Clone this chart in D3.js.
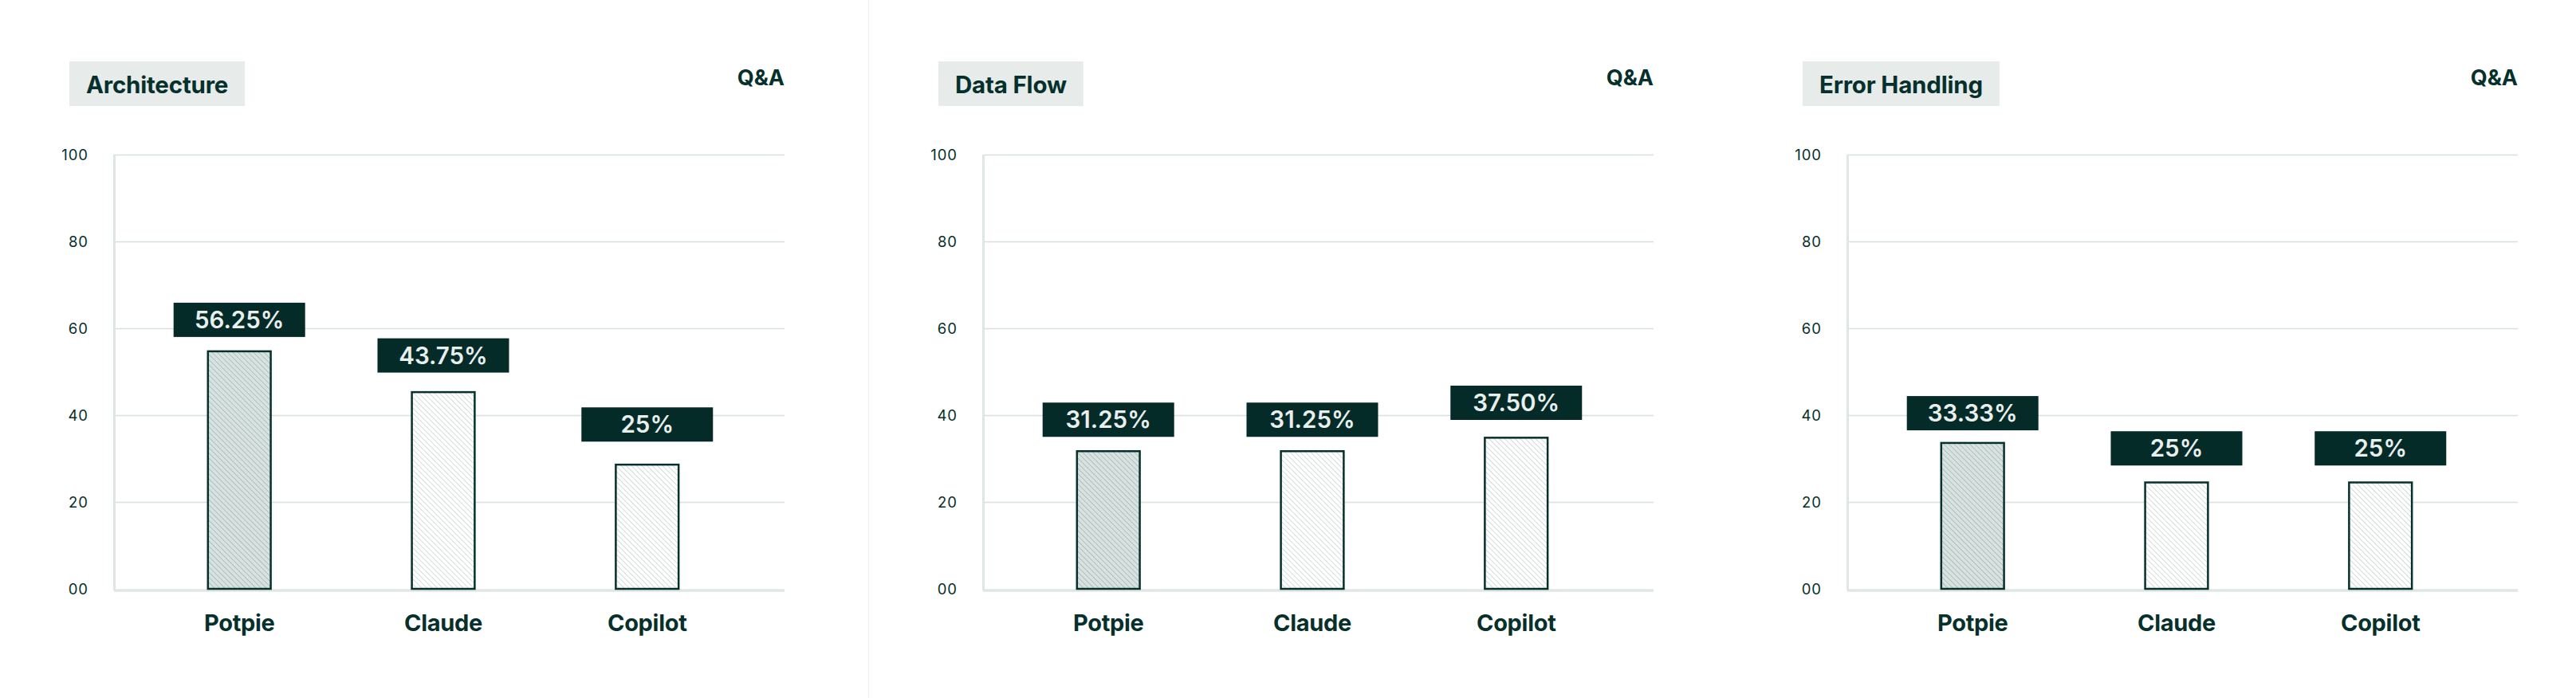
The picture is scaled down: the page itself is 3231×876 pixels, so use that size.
<!DOCTYPE html>
<html>
<head>
<meta charset="utf-8">
<script src="https://cdn.jsdelivr.net/npm/d3@7"></script>
<style>
  html, body { margin: 0; padding: 0; background: #ffffff; }
  svg { display: block; }
</style>
</head>
<body>
<svg id="chart" width="3231" height="876"></svg>
<script>
// ---------- data ----------
const panelTitles = ["Architecture", "Data Flow", "Error Handling"];
const cornerLabel = "Q&A";
const tools = ["Potpie", "Claude", "Copilot"];
const barValuesArchitecture = [54.7, 45.3, 28.6];
const barValuesDataFlow = [31.7, 31.7, 34.8];
const barValuesErrorHandling = [33.6, 24.5, 24.5];
const tagTextArchitecture = ["56.25%", "43.75%", "25%"];
const tagTextDataFlow = ["31.25%", "31.25%", "37.50%"];
const tagTextErrorHandling = ["33.33%", "25%", "25%"];
// level (in axis units) at which the bottom of each dark tag sits
const tagLevelArchitecture = [58.0, 49.8, 33.9];
const tagLevelDataFlow = [35.0, 35.0, 38.9];
const tagLevelErrorHandling = [36.5, 28.4, 28.4];
const yTickValues = [0, 20, 40, 60, 80, 100];
const yTickLabels = ["00", "20", "40", "60", "80", "100"];

const barValues = [barValuesArchitecture, barValuesDataFlow, barValuesErrorHandling];
const tagTexts = [tagTextArchitecture, tagTextDataFlow, tagTextErrorHandling];
const tagLevels = [tagLevelArchitecture, tagLevelDataFlow, tagLevelErrorHandling];

// ---------- style / layout ----------
const DARK = "#06302c";
const TAG = "#052b29";
const GRID = "#d6e0de";
const AXIS = "#dfe7e5";
const panelOrigins = [0, 1090, 2174];
const plot = { left: 143, right: 984, top: 194, bottom: 739 };

const svg = d3.select("#chart");
const defs = svg.append("defs");

function hatch(id, bg, line) {
  const p = defs.append("pattern")
    .attr("id", id).attr("patternUnits", "userSpaceOnUse")
    .attr("width", 4.6).attr("height", 4.6)
    .attr("patternTransform", "rotate(45)");
  p.append("rect").attr("width", 4.6).attr("height", 4.6).attr("fill", bg);
  p.append("line").attr("x1", 0).attr("y1", 0).attr("x2", 4.6).attr("y2", 0)
    .attr("stroke", line).attr("stroke-width", 1.4);
}
hatch("hatchDark", "#d8e3e1", "#9fb2af");
hatch("hatchLight", "#ffffff", "#c3cfcd");

// separator
svg.append("line").attr("x1", 1089.5).attr("x2", 1089.5).attr("y1", 0).attr("y2", 876)
  .attr("stroke", "#f0f1f1").attr("stroke-width", 1.5);

const y = d3.scaleLinear().domain([0, 100]).range([plot.bottom, plot.top]);
const x = d3.scaleBand().domain(tools).range([plot.left, plot.right])
  .paddingInner(0.692).paddingOuter(0.49).align(0.47);

panelTitles.forEach((title, pi) => {
  const g = svg.append("g").attr("transform", `translate(${panelOrigins[pi]},0)`);

  // title chip
  const tg = g.append("g");
  const tbox = tg.append("rect").attr("x", 87).attr("y", 77).attr("height", 56).attr("fill", "#e7ebea");
  const tt = tg.append("text").attr("x", 108).attr("y", 117)
    .attr("font-family", "Inter, 'Noto Sans', sans-serif").attr("font-weight", 700)
    .attr("font-size", 29.5).attr("fill", DARK).attr("letter-spacing", -0.2).text(title);
  const tw = tt.node().getComputedTextLength();
  tbox.attr("width", tw + 42);

  // corner label
  g.append("text").attr("x", plot.right).attr("y", 107).attr("text-anchor", "end")
    .attr("font-family", "Inter, 'Noto Sans', sans-serif").attr("font-weight", 700)
    .attr("font-size", 27).attr("fill", DARK).text(cornerLabel);

  // gridlines
  g.append("g").selectAll("line").data(yTickValues.filter(v => v > 0)).join("line")
    .attr("x1", plot.left).attr("x2", plot.right)
    .attr("y1", d => y(d) + 0.5).attr("y2", d => y(d) + 0.5)
    .attr("stroke", GRID).attr("stroke-width", 1.5);

  // y axis via d3.axisLeft (labels only)
  const ax = g.append("g").attr("transform", `translate(${plot.left - 32},0)`)
    .call(d3.axisLeft(y).tickValues(yTickValues).tickSize(0).tickPadding(0)
      .tickFormat((d, i) => yTickLabels[i]));
  ax.select(".domain").remove();
  ax.selectAll("text").attr("font-family", "Inter, 'Noto Sans', sans-serif")
    .attr("font-size", 18.5).attr("font-weight", 400).attr("letter-spacing", 1)
    .attr("fill", DARK).attr("text-anchor", "end").attr("dy", "0.36em");

  // axis lines
  g.append("line").attr("x1", plot.left + 0.5).attr("x2", plot.left + 0.5)
    .attr("y1", plot.top).attr("y2", plot.bottom + 2).attr("stroke", AXIS).attr("stroke-width", 3);
  g.append("line").attr("x1", plot.left).attr("x2", plot.right)
    .attr("y1", plot.bottom + 2).attr("y2", plot.bottom + 2).attr("stroke", AXIS).attr("stroke-width", 3.5);

  // bars
  const vals = barValues[pi];
  g.append("g").selectAll("rect").data(tools).join("rect")
    .attr("x", d => x(d)).attr("width", x.bandwidth())
    .attr("y", (d, i) => y(vals[i])).attr("height", (d, i) => y(0) - y(vals[i]))
    .attr("fill", (d, i) => i === 0 ? "url(#hatchDark)" : "url(#hatchLight)")
    .attr("stroke", DARK).attr("stroke-width", 2.5);

  // x labels
  g.append("g").selectAll("text").data(tools).join("text")
    .attr("x", d => x(d) + x.bandwidth() / 2).attr("y", 792)
    .attr("text-anchor", "middle")
    .attr("font-family", "Inter, 'Noto Sans', sans-serif").attr("font-weight", 700)
    .attr("font-size", 29).attr("fill", DARK).attr("letter-spacing", -0.3).text(d => d);

  // value tags
  const tagW = 165, tagH = 43;
  const tags = g.append("g").selectAll("g").data(tools).join("g")
    .attr("transform", (d, i) => `translate(${x(d) + x.bandwidth() / 2},${y(tagLevels[pi][i])})`);
  tags.append("rect").attr("x", -tagW / 2).attr("y", -tagH).attr("width", tagW).attr("height", tagH)
    .attr("fill", TAG);
  tags.append("text").attr("x", 0).attr("y", -tagH / 2 + 10.5).attr("text-anchor", "middle")
    .attr("font-family", "Inter, 'Noto Sans', sans-serif").attr("font-weight", 600)
    .attr("font-size", 29.5).attr("fill", "#e9efed").text((d, i) => tagTexts[pi][i]);
});
</script>
</body>
</html>
